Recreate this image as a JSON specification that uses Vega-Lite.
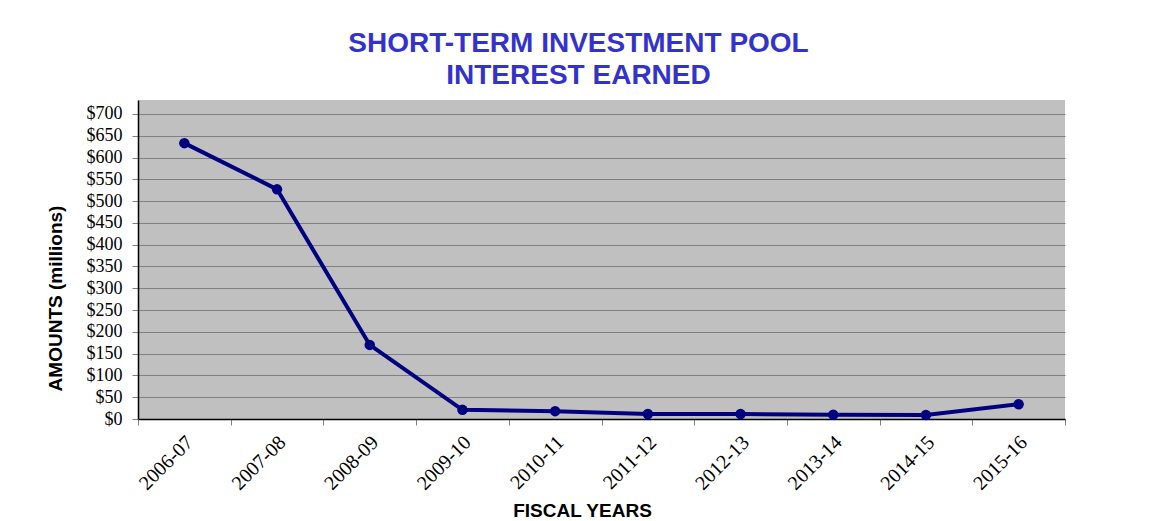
{
  "$schema": "https://vega.github.io/schema/vega-lite/v6.json",
  "width": 927,
  "height": 319,
  "autosize": "none",
  "padding": {"left": 138, "top": 100, "right": 104, "bottom": 102},
  "background": "white",
  "title": {
    "text": ["SHORT-TERM INVESTMENT POOL", "INTEREST EARNED"],
    "font": "Liberation Sans",
    "fontSize": 28,
    "fontWeight": "bold",
    "color": "#3333CC",
    "lineHeight": 32,
    "anchor": "middle",
    "dx": -23,
    "baseline": "bottom",
    "offset": -18
  },
  "data": {
    "values": [
      {"year": "2006-07", "amount": 633},
      {"year": "2007-08", "amount": 527},
      {"year": "2008-09", "amount": 170},
      {"year": "2009-10", "amount": 21},
      {"year": "2010-11", "amount": 18},
      {"year": "2011-12", "amount": 11.5},
      {"year": "2012-13", "amount": 11.5},
      {"year": "2013-14", "amount": 10},
      {"year": "2014-15", "amount": 9},
      {"year": "2015-16", "amount": 34}
    ]
  },
  "mark": {"type": "line", "color": "#000080", "strokeWidth": 4, "point": {"filled": true, "size": 110, "color": "#000080"}},
  "encoding": {
    "x": {
      "field": "year",
      "type": "ordinal",
      "sort": null,
      "scale": {"type": "band", "paddingInner": 0, "paddingOuter": 0},
      "axis": {
        "title": "FISCAL YEARS",
        "titleFont": "Liberation Sans",
        "titleFontSize": 19,
        "titleFontWeight": "bold",
        "titleColor": "black",
        "titleX": 444,
        "titleY": 97,
        "titleAlign": "center",
        "titleBaseline": "alphabetic",
        "labelAngle": -45,
        "labelAlign": "right",
        "labelBaseline": "middle",
        "labelFont": "Liberation Serif",
        "labelFontSize": 20,
        "labelColor": "black",
        "labelPadding": 14,
        "labelOffset": 5,
        "tickBand": "extent",
        "tickColor": "#808080",
        "tickSize": 6,
        "domainColor": "black",
        "domainWidth": 1.5,
        "grid": false
      }
    },
    "y": {
      "field": "amount",
      "type": "quantitative",
      "scale": {"domain": [0, 732], "nice": false},
      "axis": {
        "title": "AMOUNTS (millions)",
        "titleFont": "Liberation Sans",
        "titleFontSize": 19,
        "titleFontWeight": "bold",
        "titleColor": "black",
        "titleX": -83,
        "titleY": 198,
        "titleAngle": -90,
        "titleAlign": "center",
        "titleBaseline": "middle",
        "values": [0, 50, 100, 150, 200, 250, 300, 350, 400, 450, 500, 550, 600, 650, 700],
        "labelExpr": "'$' + datum.value",
        "labelFont": "Liberation Serif",
        "labelFontSize": 18,
        "labelColor": "black",
        "labelPadding": 10,
        "tickColor": "#808080",
        "tickSize": 6,
        "domainColor": "black",
        "domainWidth": 1.5,
        "grid": true,
        "gridColor": "#808080",
        "gridWidth": 1
      }
    }
  },
  "config": {
    "view": {"fill": "#C0C0C0", "stroke": null}
  }
}
